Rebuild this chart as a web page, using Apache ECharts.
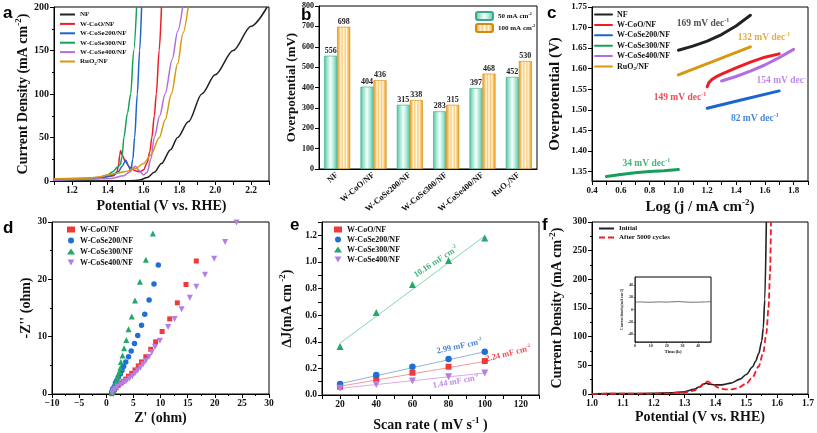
<!DOCTYPE html>
<html><head><meta charset="utf-8">
<script src="https://cdn.jsdelivr.net/npm/echarts@6/dist/echarts.min.js"></script>
<style>html,body{margin:0;padding:0;background:#fff}#c{width:817px;height:433px}</style>
</head><body><div id="c"></div><script>
// ---------- Panel a : LSV ----------
const aNF_V = [1.10,1.50,1.55,1.58,1.62,1.66,1.70,1.75,1.79,1.85,1.925,2.00,2.10,2.20,2.29];
const aNF_J = [0,0.2,0.5,1.2,4,10,20,36,50,68,100,122,150,178,200];
const aCoO_V = [1.10,1.20,1.30,1.38,1.43,1.45,1.46,1.467,1.472,1.48,1.50,1.52,1.55,1.58,1.60,1.62,1.635,1.646,1.66,1.671,1.687,1.70];
const aCoO_J = [2.0,2.5,3.2,4.5,6,9,18,30,35,30,22,16,12,10.5,13,21,34,50,75,100,150,200];
const aCoSe200_V = [1.10,1.25,1.35,1.42,1.46,1.48,1.50,1.515,1.528,1.54,1.55,1.565,1.578,1.589];
const aCoSe200_J = [1.5,2.2,3.5,6,11,17,24,18,11,25,50,100,150,200];
const aCoSe300_V = [1.10,1.25,1.35,1.40,1.43,1.455,1.47,1.48,1.49,1.51,1.528,1.545,1.561];
const aCoSe300_J = [1.2,2,4,7,11,16,19,28,50,78,100,150,200];
const aCoSe400_V = [1.10,1.30,1.42,1.49,1.52,1.54,1.555,1.575,1.60,1.62,1.64,1.66,1.69,1.72,1.76,1.79,1.818];
const aCoSe400_J = [1,2,3,6,10,15,17,12,7,10,25,50,75,100,140,172,200];
const aRuO2_V = [1.10,1.30,1.36,1.40,1.45,1.50,1.55,1.60,1.64,1.688,1.72,1.755,1.79,1.82,1.849];
const aRuO2_J = [2.5,3.5,5,7,9,11,14,20,30,50,70,100,135,170,200];
const aXTicks = [1.2,1.4,1.6,1.8,2.0,2.2];

// ---------- Panel b : overpotential bars ----------
const bCats = ['NF','W-CoO/NF','W-CoSe200/NF','W-CoSe300/NF','W-CoSe400/NF','RuO2/NF'];
const b50 = [556,404,315,283,397,452];
const b100 = [698,436,338,315,468,530];

// ---------- Panel c : Tafel ----------
const cNF_X = [1.0,1.1,1.2,1.3,1.4,1.5];
const cNF_Y = [1.645,1.655,1.667,1.683,1.704,1.730];
const cCoO_X = [1.2,1.21,1.23,1.26,1.3,1.4,1.5,1.6,1.7];
const cCoO_Y = [1.556,1.565,1.573,1.580,1.587,1.602,1.616,1.628,1.636];
const cCoSe200_X = [1.2,1.45,1.7];
const cCoSe200_Y = [1.504,1.525,1.546];
const cCoSe300_X = [0.5,0.6,0.7,0.8,0.9,1.0];
const cCoSe300_Y = [1.338,1.343,1.347,1.350,1.352,1.355];
const cCoSe400_X = [1.3,1.4,1.5,1.6,1.7,1.8];
const cCoSe400_Y = [1.570,1.581,1.594,1.609,1.627,1.647];
const cRuO2_X = [1.0,1.25,1.5];
const cRuO2_Y = [1.585,1.619,1.653];
const cTafelSlopes = ['169','149','82','34','154','132'];
const cXTicks = [0.4,0.6,0.8,1.0,1.2,1.4,1.6,1.8];
const cYTicks = [1.35,1.40,1.45,1.50,1.55,1.60,1.65,1.70,1.75];

// ---------- Panel d : Nyquist ----------
const dCoO_X = [16.6,14.7,13.1,11.7,10.3,9.1,8.2,7.3,6.5,5.9,5.3,4.7,4.1,3.6,3.1,2.7,2.2,1.8,1.5,1.2,1.0];
const dCoO_Y = [23.2,19.1,15.9,13.1,10.9,9.1,7.8,6.5,5.6,4.9,4.2,3.6,3.1,2.6,2.2,1.9,1.5,1.1,0.75,0.4,0.05];
const dCoSe200_X = [9.6,8.8,7.9,7.1,6.5,5.8,5.2,4.6,4.1,3.6,3.2,2.9,2.6,2.2,1.9,1.7,1.5,1.2,1.0];
const dCoSe200_Y = [22.5,19.2,16.4,13.9,12.0,10.2,8.8,7.5,6.5,5.6,4.8,4.1,3.5,2.9,2.3,1.9,1.3,0.9,0.4];
const dCoSe300_X = [8.6,7.3,6.2,5.3,4.7,4.1,3.7,3.3,3.0,2.7,2.6,2.4,2.2,2.0,1.8,1.6,1.5,1.3,1.1];
const dCoSe300_Y = [28.0,23.4,19.6,16.3,13.5,11.3,9.4,8.0,6.7,5.6,4.6,3.9,3.2,2.6,2.0,1.6,1.1,0.7,0.35];
const dCoSe400_X = [24.0,21.9,19.9,18.2,16.6,15.4,13.9,12.6,11.4,9.9,9.0,8.4,7.9,7.3,6.8,6.3,5.8,5.3,4.8,4.3,3.7,3.2,2.7,2.1,1.7,1.3,1.1];
const dCoSe400_Y = [29.9,26.5,23.6,20.8,18.7,16.8,14.8,13.1,11.7,9.3,8.2,7.3,6.5,5.8,5.2,4.6,4.1,3.6,3.1,2.7,2.3,2.0,1.6,1.3,0.9,0.6,0.2];

// ---------- Panel e : Cdl ----------
const eRate = [20,40,60,80,100];
const eCoO = [0.0625,0.1175,0.1675,0.2125,0.255];
const eCoSe200 = [0.0825,0.15,0.2125,0.27,0.325];
const eCoSe300 = [0.365,0.62,0.83,1.01,1.18];
const eCoSe400 = [0.05,0.078,0.106,0.137,0.165];
const eFitX = [20,100];
const eFitCoO = [0.066,0.252];
const eFitCoSe200 = [0.085,0.325];
const eFitCoSe300 = [0.39,1.195];
const eFitCoSe400 = [0.05,0.165];
const eCdl = ['2.24','2.99','10.16','1.44'];
const eXTicks = [20,40,60,80,100,120];
const eYTicks = [0,0.2,0.4,0.6,0.8,1.0,1.2];

// ---------- Panel f : stability ----------
const fInit_V = [1.00,1.10,1.20,1.25,1.30,1.33,1.35,1.36,1.37,1.38,1.40,1.42,1.45,1.48,1.50,1.52,1.53,1.54,1.55,1.555,1.56,1.565];
const fInit_J = [0.5,0.8,1.2,2,4,8,13,17,19,17,16,16,19,26,34,47,57,70,92,115,165,300];
const fAfter_V = [1.00,1.10,1.20,1.25,1.30,1.33,1.35,1.365,1.375,1.39,1.41,1.43,1.45,1.47,1.50,1.52,1.54,1.555,1.565,1.572,1.577,1.58];
const fAfter_J = [0.3,0.5,0.8,1.2,2.5,6,12,19,22,17,11,8,8,10,18,29,48,72,105,150,210,300];
const insetT = [0,4,8,12,16,20,24,28,32,36,40,44,48];
const insetJ = [12,12.3,11.8,12.1,12.4,12.0,12.6,12.9,12.2,11.8,12.0,12.3,13.0];

// ================= chart =================
const SERIF = 'Liberation Serif';
const zip = (xs, ys) => xs.map((x, i) => [x, ys[i]]);
function R(s) {
  const b = {fontFamily: SERIF, fontWeight: 'bold', fontSize: s, lineHeight: Math.round(s * 1.25)};
  const small = Math.max(4, Math.round(s * 0.62));
  return {n: {...b}, sup: {...b, fontSize: small, verticalAlign: 'top'}, sub: {...b, fontSize: small, verticalAlign: 'bottom'}};
}
const C = {NF: '#222222', CoO: '#ee1c24', Se200: '#1a66cc', Se300: '#16a05a', Se400: '#b06ee0', RuO2: '#d69a12'};

const grids = [
  {left: 54, top: 7, width: 215, height: 174},
  {left: 319, top: 6, width: 218, height: 163},
  {left: 592, top: 7, width: 216, height: 174},
  {left: 52, top: 222, width: 217, height: 172},
  {left: 322, top: 222, width: 217, height: 173},
  {left: 592, top: 222, width: 216, height: 172},
  {left: 635, top: 277, width: 76, height: 65}
].map(g => Object.assign({show: true, borderColor: '#000', borderWidth: 1, backgroundColor: 'transparent', containLabel: false}, g));

const lab = (s) => ({fontFamily: SERIF, fontWeight: 'bold', fontSize: s, color: '#111', margin: 5});
const tick = {show: true, length: 4, lineStyle: {color: '#000', width: 1}};
const minor = {show: true, length: 2, splitNumber: 2, lineStyle: {color: '#000', width: 1}};
const aline = {show: true, onZero: false, lineStyle: {color: '#000', width: 1}};
const nameSt = (s) => ({fontFamily: SERIF, fontWeight: 'bold', fontSize: s, color: '#111', rich: R(s)});
function valAxis(grid, o) {
  return Object.assign({type: 'value', gridIndex: grid, axisLine: aline, axisTick: tick, splitLine: {show: false},
    nameLocation: 'middle'}, o);
}
const thinLine = {show: true, onZero: false, lineStyle: {color: '#000', width: 0.5}};

const xAxis = [
  valAxis(0, {min: 1.1, max: 2.3, name: 'Potential (V vs. RHE)', nameGap: 18, nameTextStyle: nameSt(14),
    axisLabel: Object.assign(lab(9.5), {customValues: aXTicks, formatter: v => v.toFixed(1)}),
    axisTick: Object.assign({}, tick, {customValues: [1.1,1.2,1.3,1.4,1.5,1.6,1.7,1.8,1.9,2.0,2.1,2.2,2.3]})}),
  {type: 'category', gridIndex: 1, data: bCats, axisLine: aline, axisTick: {show: false},
    axisLabel: Object.assign(lab(8.5), {rotate: 40, interval: 0, margin: 5, rich: R(8.5),
      formatter: v => v === 'RuO2/NF' ? '{n|RuO}{sub|2}{n|/NF}' : '{n|' + v + '}'})},
  valAxis(2, {min: 0.4, max: 1.9, name: '{n|Log (j / mA cm}{sup|-2}{n|)}', nameGap: 17, nameTextStyle: nameSt(15),
    axisLabel: Object.assign(lab(9), {customValues: cXTicks, formatter: v => v.toFixed(1)}),
    axisTick: Object.assign({}, tick, {customValues: [0.4,0.5,0.6,0.7,0.8,0.9,1.0,1.1,1.2,1.3,1.4,1.5,1.6,1.7,1.8,1.9]})}),
  valAxis(3, {min: -10, max: 30, interval: 5, name: "Z' (ohm)", nameGap: 17, nameTextStyle: nameSt(14),
    axisLabel: Object.assign(lab(9.5), {formatter: v => v < 0 ? '\u2212' + (-v) : '' + v}), minorTick: minor}),
  valAxis(4, {min: 10, max: 130, name: '{n|Scan rate ( mV s}{sup|-1}{n| )}', nameGap: 21, nameTextStyle: nameSt(14),
    axisLabel: Object.assign(lab(9.5), {customValues: eXTicks}),
    axisTick: Object.assign({}, tick, {customValues: [10,20,30,40,50,60,70,80,90,100,110,120,130]})}),
  valAxis(5, {min: 1.0, max: 1.7, interval: 0.1, name: 'Potential (V vs. RHE)', nameGap: 16, nameTextStyle: nameSt(14),
    axisLabel: Object.assign(lab(9.5), {formatter: v => v.toFixed(1)}), minorTick: minor}),
  valAxis(6, {min: 0, max: 48, name: 'Time(h)', nameGap: 6, nameTextStyle: {fontFamily: SERIF, fontSize: 5, color: '#222'},
    axisLabel: {customValues: [0,10,20,30,40], fontFamily: SERIF, fontSize: 4, color: '#222', margin: 2},
    axisTick: {show: true, length: 1.5, customValues: [0,10,20,30,40], lineStyle: {color: '#000', width: 0.5}}, axisLine: thinLine})
];
const yAxis = [
  valAxis(0, {min: 0, max: 200, interval: 50, name: '{n|Current Density (mA cm}{sup|-2}{n|)}', nameGap: 19, nameTextStyle: nameSt(14),
    axisLabel: lab(10), minorTick: minor}),
  valAxis(1, {min: 0, max: 800, interval: 100, name: 'Overpotential (mV)', nameGap: 19, nameTextStyle: nameSt(13),
    axisLabel: lab(8)}),
  valAxis(2, {min: 1.327, max: 1.75, name: 'Overpotential (V)', nameGap: 29, nameTextStyle: nameSt(15),
    axisLabel: Object.assign(lab(9), {customValues: cYTicks, formatter: v => v.toFixed(2)}),
    axisTick: Object.assign({}, tick, {customValues: cYTicks})}),
  valAxis(3, {min: 0, max: 30, interval: 10, name: "-Z'' (ohm)", nameGap: 17, nameTextStyle: nameSt(14),
    axisLabel: lab(9.5), minorTick: minor}),
  valAxis(4, {min: 0, max: 1.3, name: '{n|\u2206J(mA cm}{sup| -2}{n|)}', nameGap: 26, nameTextStyle: nameSt(14),
    axisLabel: Object.assign(lab(9.5), {customValues: eYTicks, formatter: v => v.toFixed(1)}),
    axisTick: Object.assign({}, tick, {customValues: [0,0.1,0.2,0.3,0.4,0.5,0.6,0.7,0.8,0.9,1.0,1.1,1.2,1.3]})}),
  valAxis(5, {min: 0, max: 300, interval: 50, name: '{n|Current Density (mA cm}{sup|-2}{n|)}', nameGap: 26, nameTextStyle: nameSt(14),
    axisLabel: lab(9.5), minorTick: minor}),
  valAxis(6, {min: -53, max: 53, name: 'Current density(mA cm-2)', nameGap: 8, nameTextStyle: {fontFamily: SERIF, fontSize: 3.6, color: '#222'},
    axisLabel: {customValues: [-40,-20,0,20,40], fontFamily: SERIF, fontSize: 4, color: '#222', margin: 2},
    axisTick: {show: true, length: 1.5, customValues: [-40,-20,0,20,40], lineStyle: {color: '#000', width: 0.5}}, axisLine: thinLine})
];

function line(g, name, data, color, width, extra) {
  return Object.assign({type: 'line', name, xAxisIndex: g, yAxisIndex: g, data, symbol: 'none', smooth: 0.3, smoothMonotone: 'x',
    lineStyle: {color, width}, itemStyle: {color}, z: 3, silent: true}, extra || {});
}
function scat(g, name, data, color, symbol, size) {
  return {type: 'scatter', name, xAxisIndex: g, yAxisIndex: g, data, symbol, symbolSize: size, itemStyle: {color, opacity: 1}, z: 4, silent: true};
}
function note(g, pos, text, color, size, rotate) {
  return {type: 'scatter', xAxisIndex: g, yAxisIndex: g, data: [pos], symbolSize: 0.1, itemStyle: {color: 'transparent'}, silent: true, z: 6,
    label: {show: true, position: 'inside', formatter: text, color, rotate: rotate || 0, rich: R(size), fontFamily: SERIF, fontWeight: 'bold', fontSize: size}};
}
const DOWN = 'path://M0,0L10,0L5,8.7Z';
const tealGrad = {type: 'linear', x: 0, y: 0, x2: 1, y2: 0, colorStops: [
  {offset: 0, color: '#4fc4a4'}, {offset: 0.25, color: '#a8e6d4'}, {offset: 0.5, color: '#f4fffb'}, {offset: 0.75, color: '#a8e6d4'}, {offset: 1, color: '#4fc4a4'}]};
const orangeGrad = {type: 'linear', x: 0, y: 0, x2: 1, y2: 0, colorStops: [
  {offset: 0, color: '#f0a020'}, {offset: 0.15, color: '#f8c060'}, {offset: 0.28, color: '#fff4dc'}, {offset: 0.38, color: '#f9cc7a'},
  {offset: 0.5, color: '#fffaf0'}, {offset: 0.62, color: '#f9cc7a'}, {offset: 0.72, color: '#fff4dc'}, {offset: 0.85, color: '#f8c060'}, {offset: 1, color: '#f0a020'}]};
const barLab = {show: true, position: 'top', distance: 1, fontFamily: SERIF, fontWeight: 'bold', fontSize: 8, color: '#222'};
const tafel = {smooth: false, smoothMonotone: null, lineStyle: null};

function tline(name, xs, ys, color) {
  return {type: 'line', name, xAxisIndex: 2, yAxisIndex: 2, data: zip(xs, ys), symbol: 'none', smooth: false,
    lineStyle: {color, width: 3, cap: 'round', join: 'round'}, itemStyle: {color}, z: 3, silent: true};
}

const series = [
  // a
  line(0, 'a:NF', zip(aNF_V, aNF_J), C.NF, 1.5),
  line(0, 'a:W-CoO/NF', zip(aCoO_V, aCoO_J), C.CoO, 1.5),
  line(0, 'a:W-CoSe200/NF', zip(aCoSe200_V, aCoSe200_J), C.Se200, 1.5),
  line(0, 'a:W-CoSe300/NF', zip(aCoSe300_V, aCoSe300_J), C.Se300, 1.5),
  line(0, 'a:W-CoSe400/NF', zip(aCoSe400_V, aCoSe400_J), C.Se400, 1.5),
  line(0, 'a:RuO2/NF', zip(aRuO2_V, aRuO2_J), C.RuO2, 1.5),
  // b
  {type: 'bar', name: 'b:50', xAxisIndex: 1, yAxisIndex: 1, data: b50, barWidth: 13, barGap: '0%',
    itemStyle: {color: tealGrad, borderColor: '#3aa88a', borderWidth: 0.6}, label: barLab, silent: true},
  {type: 'bar', name: 'b:100', xAxisIndex: 1, yAxisIndex: 1, data: b100, barWidth: 13, barGap: '0%',
    itemStyle: {color: orangeGrad, borderColor: '#d08a10', borderWidth: 0.6}, label: barLab, silent: true},
  // c
  tline('c:NF', cNF_X, cNF_Y, C.NF),
  tline('c:W-CoO/NF', cCoO_X, cCoO_Y, C.CoO),
  tline('c:W-CoSe200/NF', cCoSe200_X, cCoSe200_Y, C.Se200),
  tline('c:W-CoSe300/NF', cCoSe300_X, cCoSe300_Y, C.Se300),
  tline('c:W-CoSe400/NF', cCoSe400_X, cCoSe400_Y, C.Se400),
  tline('c:RuO2/NF', cRuO2_X, cRuO2_Y, C.RuO2),
  note(2, [1.171, 1.709], '{n|' + cTafelSlopes[0] + ' mV dec}{sup|-1}', C.NF, 9.5),
  note(2, [1.011, 1.529], '{n|' + cTafelSlopes[1] + ' mV dec}{sup|-1}', C.CoO, 9.5),
  note(2, [1.531, 1.480], '{n|' + cTafelSlopes[2] + ' mV dec}{sup|-1}', C.Se200, 9.5),
  note(2, [0.777, 1.370], '{n|' + cTafelSlopes[3] + ' mV dec}{sup|-1}', C.Se300, 9.5),
  note(2, [1.725, 1.570], '{n|' + cTafelSlopes[4] + ' mV dec}{sup|-1}', C.Se400, 9.5),
  note(2, [1.594, 1.675], '{n|' + cTafelSlopes[5] + ' mV dec}{sup|-1}', C.RuO2, 9.5),
  // d
  scat(3, 'd:W-CoO/NF', zip(dCoO_X, dCoO_Y), '#f03a3a', 'rect', 5),
  scat(3, 'd:W-CoSe200/NF', zip(dCoSe200_X, dCoSe200_Y), '#1e6fd6', 'circle', 5.5),
  scat(3, 'd:W-CoSe300/NF', zip(dCoSe300_X, dCoSe300_Y), '#22a86a', 'triangle', 6),
  scat(3, 'd:W-CoSe400/NF', zip(dCoSe400_X, dCoSe400_Y), '#b57ee6', DOWN, 6),
  // e fits
  line(4, 'e:fitCoO', zip(eFitX, eFitCoO), '#f39a9a', 1, {smooth: false, z: 2}),
  line(4, 'e:fitCoSe200', zip(eFitX, eFitCoSe200), '#94b4d8', 1, {smooth: false, z: 2}),
  line(4, 'e:fitCoSe300', zip(eFitX, eFitCoSe300), '#86d4b0', 1, {smooth: false, z: 2}),
  line(4, 'e:fitCoSe400', zip(eFitX, eFitCoSe400), '#e0a8ee', 1, {smooth: false, z: 2}),
  scat(4, 'e:W-CoO/NF', zip(eRate, eCoO), '#f03a3a', 'rect', 6),
  scat(4, 'e:W-CoSe200/NF', zip(eRate, eCoSe200), '#1e6fd6', 'circle', 6.5),
  scat(4, 'e:W-CoSe300/NF', zip(eRate, eCoSe300), '#22a86a', 'triangle', 7),
  scat(4, 'e:W-CoSe400/NF', zip(eRate, eCoSe400), '#b57ee6', DOWN, 7),
  note(4, [113, 0.31], '{n|' + eCdl[0] + ' mF cm}{sup|-2}', '#ee1c24', 8.5, 14),
  note(4, [86, 0.365], '{n|' + eCdl[1] + ' mF cm}{sup|-2}', '#1a66cc', 8.5, 12),
  note(4, [73, 1.0], '{n|' + eCdl[2] + ' mF cm}{sup|-2}', '#16a05a', 8.5, 33),
  note(4, [84, 0.10], '{n|' + eCdl[3] + ' mF cm}{sup|-2}', '#b06ee0', 8.5, 10),
  // f
  line(5, 'f:Initial', zip(fInit_V, fInit_J), '#222', 1.6),
  line(5, 'f:After 5000 cycles', zip(fAfter_V, fAfter_J), '#ee1c24', 1.8, {lineStyle: {color: '#ee1c24', width: 1.8, type: [6, 3]}}),
  line(6, 'inset', zip(insetT, insetJ), '#333', 0.7)
];

const legTxt = (s) => ({fontFamily: SERIF, fontWeight: 'bold', fontSize: s, color: '#111', rich: R(s)});
const legFmt = n => { const t = n.split(':')[1]; if (t === 'RuO2/NF') return '{n|RuO}{sub|2}{n|/NF}';
  if (t === '50') return '{n|50 mA cm}{sup|-2}'; if (t === '100') return '{n|100 mA cm}{sup|-2}'; return '{n|' + t + '}'; };
const legBase = {orient: 'vertical', selectedMode: false, formatter: legFmt, padding: 0};
const noSym = {itemStyle: {opacity: 0}};
const legend = [
  Object.assign({}, legBase, noSym, {left: 59, top: 11, itemWidth: 15, itemHeight: 6, itemGap: 2.4, textStyle: legTxt(7),
    data: ['a:NF','a:W-CoO/NF','a:W-CoSe200/NF','a:W-CoSe300/NF','a:W-CoSe400/NF','a:RuO2/NF']}),
  Object.assign({}, legBase, {left: 475, top: 11, itemWidth: 17, itemHeight: 8, itemGap: 2, textStyle: legTxt(7),
    data: ['b:50','b:100']}),
  Object.assign({}, legBase, noSym, {left: 594, top: 10.5, itemWidth: 17, itemHeight: 7, itemGap: 2.4, textStyle: legTxt(8),
    data: ['c:NF','c:W-CoO/NF','c:W-CoSe200/NF','c:W-CoSe300/NF','c:W-CoSe400/NF','c:RuO2/NF']}),
  Object.assign({}, legBase, {left: 67, top: 225.5, itemWidth: 8, itemHeight: 6, itemGap: 3, textStyle: legTxt(8),
    data: ['d:W-CoO/NF','d:W-CoSe200/NF','d:W-CoSe300/NF','d:W-CoSe400/NF']}),
  Object.assign({}, legBase, {left: 334, top: 225.5, itemWidth: 8, itemHeight: 6, itemGap: 2, textStyle: legTxt(8),
    data: ['e:W-CoO/NF','e:W-CoSe200/NF','e:W-CoSe300/NF','e:W-CoSe400/NF']}),
  Object.assign({}, legBase, noSym, {left: 598, top: 225, itemWidth: 15, itemHeight: 6, itemGap: 2, textStyle: legTxt(7),
    data: ['f:Initial','f:After 5000 cycles']})
];

const letter = (t, x, y) => ({type: 'text', left: x, top: y, silent: true, z: 10,
  style: {text: t, font: 'bold 17px "Liberation Sans", Arial, sans-serif', fill: '#000'}});

const chart = echarts.init(document.getElementById('c'), null, {renderer: 'canvas'});
chart.setOption({
  animation: false,
  backgroundColor: '#fff',
  textStyle: {fontFamily: SERIF, fontWeight: 'bold'},
  grid: grids, xAxis, yAxis, series, legend,
  graphic: [letter('a', 3, 5), letter('b', 301, 7), letter('c', 547, 5), letter('d', 3, 220), letter('e', 290, 217), letter('f', 542, 217)]
});
</script></body></html>
